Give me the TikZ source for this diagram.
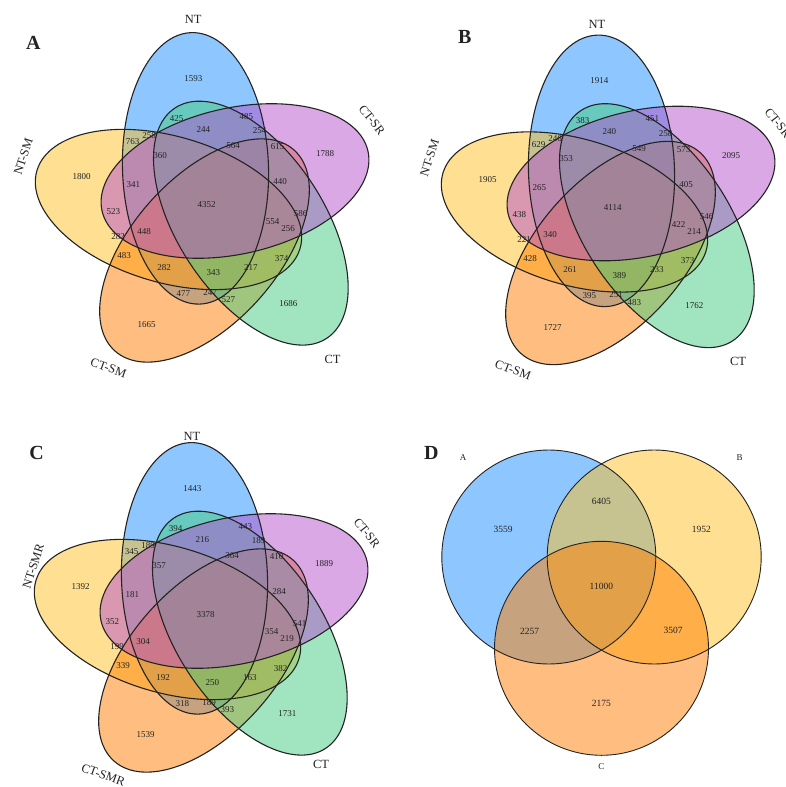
\documentclass[tikz,border=0pt]{standalone}
\usepackage{fontspec}
\setmainfont{Liberation Serif}
\definecolor{cNT}{RGB}{30,144,255}
\definecolor{cSR}{RGB}{180,82,205}
\definecolor{cCT}{RGB}{67,205,128}
\definecolor{cSM}{RGB}{255,127,0}
\definecolor{cNS}{RGB}{255,193,37}
\definecolor{ink}{RGB}{35,35,35}
\tikzset{
  vfill/.style={fill=#1, fill opacity=0.5, draw=none},
  vline/.style={draw=ink, line width=1.1pt},
  num/.style={font=\fontsize{9}{10}\selectfont, text=ink, inner sep=0pt},
  dnum/.style={font=\fontsize{9.5}{10}\selectfont, text=ink, inner sep=0pt},
  setlab/.style={font=\fontsize{12.5}{13}\selectfont, text=ink, inner sep=0pt},
  panel/.style={font=\fontsize{20}{22}\selectfont\bfseries, text=ink, inner sep=0pt},
}
% one ellipse: cx, cy, a, angle, style
\newcommand\oneell[5]{\path[#5, rotate around={#4:(#1,#2)}] (#1,#2) ellipse [x radius=#3, y radius=73];}
\newcommand\fiveell{%
  \oneell{195.5}{168.35}{135.8}{91.75}{vfill=cNT}
  \oneell{168.5}{209.5}{137.2}{163.5}{vfill=cNS}
  \oneell{204.5}{250.5}{134.6}{-131.7}{vfill=cSM}
  \oneell{250.85}{223.15}{137.9}{-56.6}{vfill=cCT}
  \oneell{235}{181}{136.3}{12.7}{vfill=cSR}
  \oneell{195.5}{168.35}{135.8}{91.75}{vline}
  \oneell{168.5}{209.5}{137.2}{163.5}{vline}
  \oneell{204.5}{250.5}{134.6}{-131.7}{vline}
  \oneell{250.85}{223.15}{137.9}{-56.6}{vline}
  \oneell{235}{181}{136.3}{12.7}{vline}
}
\newcommand\numspots[1]{%
  \foreach \xx/\yy [count=\k] in {193.3/78.3, 176.7/118.3, 246.3/116.3, 203.3/129.5, 259.5/131,
     132.5/141.7, 149/136, 160/156, 233/146, 277.5/146.7, 325/153.3, 81.7/176.7, 133.3/185,
     280/181.7, 206.7/205, 113.3/211.7, 300.5/214, 272.5/221.7, 288/229, 118/236.7, 144/231.7,
     124/256, 281.7/258.5, 164/267.5, 213.3/273, 250.8/267.5, 183.3/293.3, 210/292.5,
     228.3/300, 288.3/303.3, 146.7/325}
    {\coordinate (#1\k) at (\xx,\yy);}%
}
\begin{document}
\begin{tikzpicture}[x=1pt,y=-1pt]
\useasboundingbox (0,0) rectangle (786,787);
\fill[white] (0,0) rectangle (786,787);

% ---------- Panel A ----------
\begin{scope}
  \fiveell
  \numspots{a}
  \foreach \t [count=\k] in {1593,425,485,244,254,763,258,360,564,615,1788,1800,341,440,4352,523,586,554,256,282,448,483,374,282,343,217,477,247,527,1686,1665}
    {\node[num] (an\k) at (a\k) {\t};}
\end{scope}
\node[panel] (pA) at (33.3,43.3) {A};
\node[setlab] (aNT) at (193.3,19.3) {NT};
\node[setlab, rotate=-52] (aSR) at (372,120) {CT-SR};
\node[setlab] (aCT) at (332.5,359) {CT};
\node[setlab, rotate=-20] (aSM) at (108.5,368) {CT-SM};
\node[setlab, rotate=72] (aNS) at (23.3,156.7) {NT-SM};

% ---------- Panel B ----------
\begin{scope}[shift={(406,2.5)}]
  \fiveell
  \numspots{b}
  \foreach \t [count=\k] in {1914,383,451,240,258,629,246,353,549,573,2095,1905,265,405,4114,438,546,422,214,221,340,428,373,261,389,233,395,251,483,1762,1727}
    {\node[num] (bn\k) at (b\k) {\t};}
\end{scope}
\node[panel] (pB) at (464.7,36.7) {B};
\node[setlab] (bNT) at (597,24) {NT};
\node[setlab, rotate=-52] (bSR) at (778,123) {CT-SR};
\node[setlab] (bCT) at (738,361) {CT};
\node[setlab, rotate=-20] (bSM) at (513,370) {CT-SM};
\node[setlab, rotate=72] (bNS) at (429.5,158) {NT-SM};

% ---------- Panel C ----------
\begin{scope}[shift={(-1,410)}]
  \fiveell
  \numspots{c}
  \foreach \t [count=\k] in {1443,394,443,216,189,345,189,357,364,410,1889,1392,181,284,3378,352,541,354,219,199,304,339,382,192,250,163,318,189,393,1731,1539}
    {\node[num] (cn\k) at (c\k) {\t};}
\end{scope}
\node[panel] (pC) at (36.7,453) {C};
\node[setlab] (cNT) at (192,436) {NT};
\node[setlab, rotate=-52] (cSR) at (367,533) {CT-SR};
\node[setlab] (cCT) at (321,764) {CT};
\node[setlab, rotate=-20] (cSM) at (103.3,775) {CT-SMR};
\node[setlab, rotate=72] (cNS) at (33.3,566.3) {NT-SMR};

% ---------- Panel D ----------
\fill[cNT, fill opacity=0.5] (548.8,557) circle [radius=107];
\fill[cNS, fill opacity=0.5] (654.2,557) circle [radius=107];
\fill[cSM, fill opacity=0.5] (601.5,648.3) circle [radius=107];
\draw[vline, line width=0.9pt] (548.8,557) circle [radius=107];
\draw[vline, line width=0.9pt] (654.2,557) circle [radius=107];
\draw[vline, line width=0.9pt] (601.5,648.3) circle [radius=107];
\node[panel] (pD) at (431.3,453) {D};
\node[num] (dA) at (463,458) {A};
\node[num] (dB) at (739.7,458) {B};
\node[num] (dC) at (601.3,766.3) {C};
\node[dnum] (d1) at (503,529.7) {3559};
\node[dnum] (d2) at (601.3,501.3) {6405};
\node[dnum] (d3) at (701.3,529.7) {1952};
\node[dnum] (d4) at (601.3,586.3) {11000};
\node[dnum] (d5) at (529.7,631.3) {2257};
\node[dnum] (d6) at (673,630.3) {3507};
\node[dnum] (d7) at (601.3,703) {2175};
\end{tikzpicture}
\end{document}
